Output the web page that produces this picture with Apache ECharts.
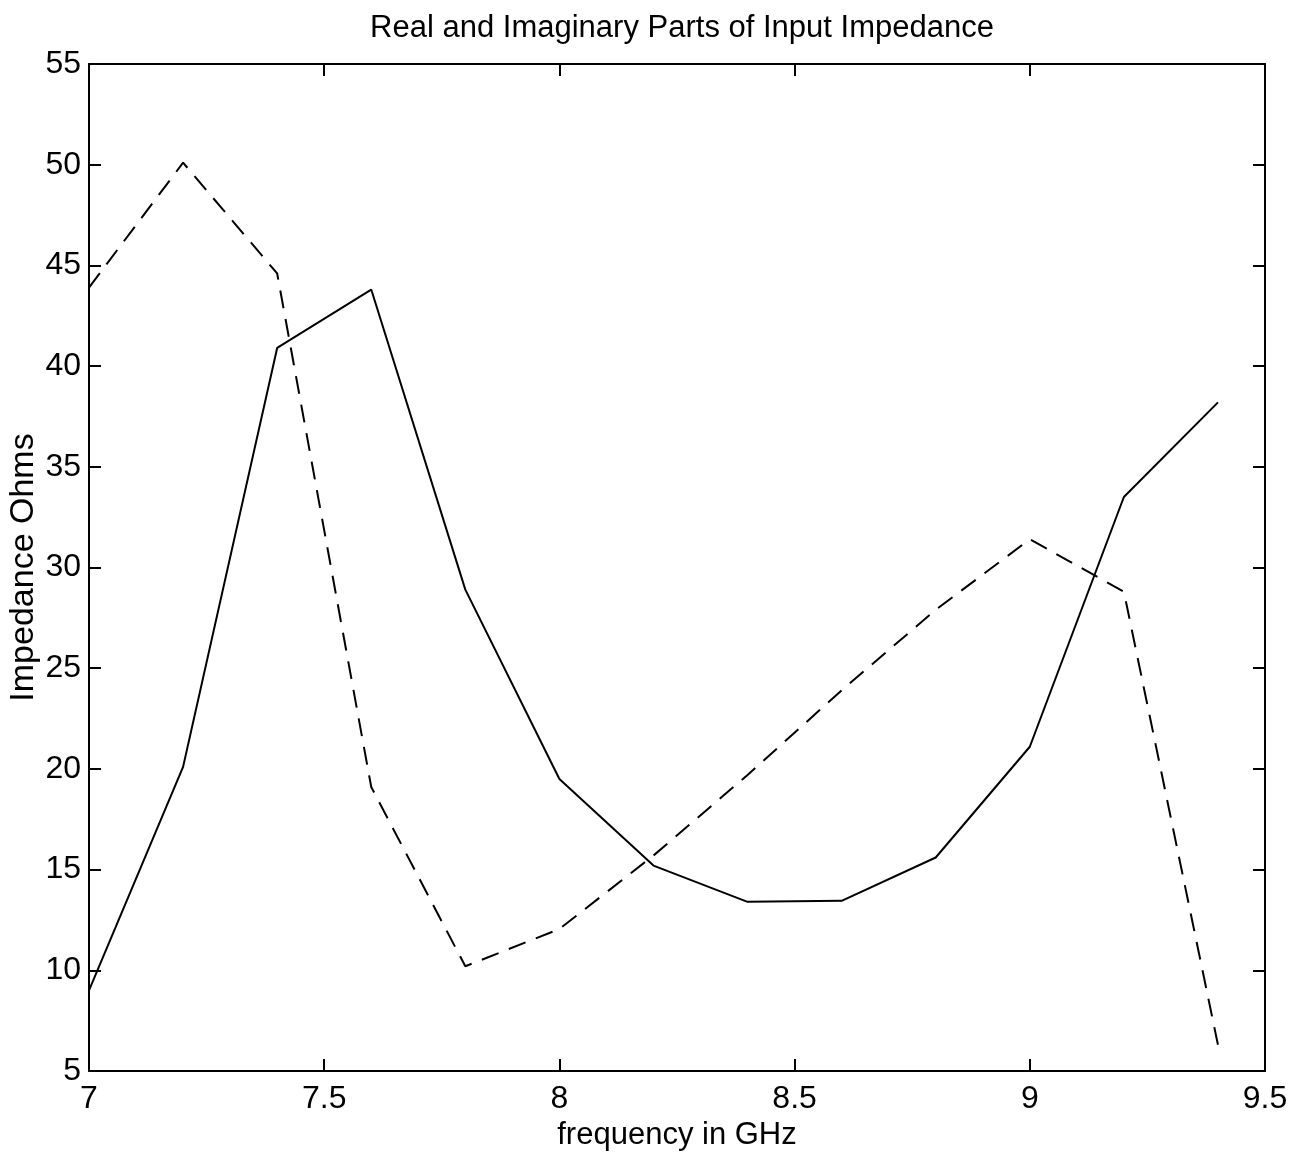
<!DOCTYPE html>
<html>
<head>
<meta charset="utf-8">
<script src="https://cdn.jsdelivr.net/npm/echarts@6/dist/echarts.min.js"></script>
<style>
  html, body { margin: 0; padding: 0; background: #fff; }
  #chart { width: 1302px; height: 1159px; }
</style>
</head>
<body>
<div id="chart"></div>
<script>
// frequency samples (GHz)
const freq = [7.0, 7.2, 7.4, 7.6, 7.8, 8.0, 8.2, 8.4, 8.6, 8.8, 9.0, 9.2, 9.4];
// solid curve
const realPart = [9.0, 20.1, 40.9, 43.8, 28.9, 19.5, 15.2, 13.4, 13.45, 15.6, 21.1, 33.5, 38.2];
// dashed curve
const imagPart = [43.9, 50.1, 44.6, 19.1, 10.2, 12.05, 15.7, 19.7, 23.9, 27.9, 31.4, 28.8, 6.3];

const font = 'Liberation Sans, Arial, Helvetica, sans-serif';

const pairs = (xs, ys) => xs.map((x, i) => [x, ys[i]]);

const tickStyle = { inside: true, length: 12, lineStyle: { color: '#000', width: 2 } };
const lineStyle = { color: '#000', width: 2 };

const chart = echarts.init(document.getElementById('chart'));

const option = {
  backgroundColor: '#fff',
  animation: false,
  title: {
    text: 'Real and Imaginary Parts of Input Impedance',
    left: 677,
    textAlign: 'center',
    top: 8,
    textStyle: { fontFamily: font, fontSize: 31, fontWeight: 'normal', color: '#000' }
  },
  grid: { left: 89, right: 37, top: 64, bottom: 88, containLabel: false, outerBoundsMode: 'none' },
  xAxis: [
    {
      type: 'value',
      min: 7, max: 9.5, interval: 0.5,
      name: 'frequency in GHz',
      nameLocation: 'middle',
      nameGap: 49,
      nameMoveOverlap: false,
      nameTextStyle: { fontFamily: font, fontSize: 31, color: '#000' },
      axisLine: { lineStyle },
      axisTick: tickStyle,
      axisLabel: { fontFamily: font, fontSize: 32, color: '#000', margin: 12 },
      splitLine: { show: false }
    },
    {
      type: 'value', position: 'top',
      min: 7, max: 9.5, interval: 0.5,
      axisLine: { lineStyle },
      axisTick: tickStyle,
      axisLabel: { show: false },
      splitLine: { show: false }
    }
  ],
  yAxis: [
    {
      type: 'value',
      min: 5, max: 55, interval: 5,
      name: 'Impedance Ohms',
      nameLocation: 'middle',
      nameGap: 48,
      nameMoveOverlap: false,
      nameTextStyle: { fontFamily: font, fontSize: 34, color: '#000' },
      axisLine: { lineStyle },
      axisTick: tickStyle,
      axisLabel: { fontFamily: font, fontSize: 32, color: '#000', margin: 8 },
      splitLine: { show: false }
    },
    {
      type: 'value', position: 'right',
      min: 5, max: 55, interval: 5,
      axisLine: { lineStyle },
      axisTick: tickStyle,
      axisLabel: { show: false },
      splitLine: { show: false }
    }
  ],
  series: [
    {
      name: 'Real',
      type: 'line',
      data: pairs(freq, realPart),
      symbol: 'none',
      lineStyle: { color: '#000', width: 2 }
    },
    {
      name: 'Imaginary',
      type: 'line',
      data: pairs(freq, imagPart),
      symbol: 'none',
      lineStyle: { color: '#000', width: 2, type: [18, 11] }
    }
  ]
};

chart.setOption(option);
</script>
</body>
</html>
